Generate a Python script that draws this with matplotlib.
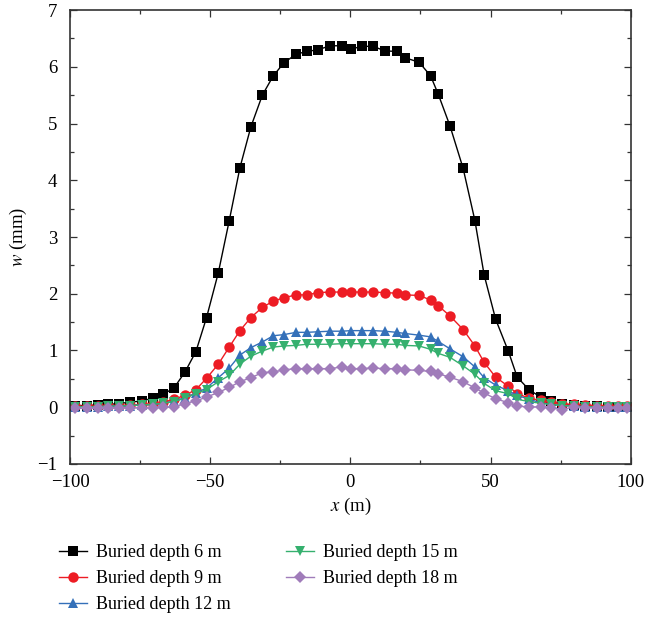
import matplotlib
matplotlib.use('Agg')
import matplotlib.pyplot as plt
from matplotlib.ticker import MultipleLocator

plt.rcParams['font.family'] = ['Liberation Serif', 'DejaVu Serif']
plt.rcParams['mathtext.fontset'] = 'stix'

# posicoes x (m) comuns a todas as series
x = [-98.2, -94.1, -90.1, -86.3, -82.4, -78.6, -74.4, -70.5, -66.7, -62.9,
     -59.0, -55.1, -51.3, -47.1, -43.2, -39.4, -35.5, -31.4, -27.5, -23.7,
     -19.4, -15.6, -11.5, -7.3, -3.1, 0.2,
     4.0, 8.1, 12.3, 16.5, 19.4, 24.5, 28.6, 31.3, 35.5, 40.2,
     44.4, 47.7, 51.8, 56.3, 59.5, 63.7, 67.8, 71.4, 75.6, 79.7,
     83.8, 87.8, 91.9, 95.5, 98.7]

w_6m = [0.03, 0.03, 0.04, 0.05, 0.065, 0.09, 0.11, 0.16, 0.23, 0.34,
        0.62, 0.98, 1.58, 2.37, 3.29, 4.22, 4.94, 5.50, 5.84, 6.07,
        6.22, 6.27, 6.30, 6.37, 6.37, 6.31,
        6.36, 6.36, 6.28, 6.27, 6.16, 6.08, 5.84, 5.52, 4.96, 4.21,
        3.29, 2.33, 1.55, 0.99, 0.53, 0.31, 0.18, 0.11, 0.05, 0.035,
        0.02, 0.02, 0.01, 0.0, 0.0]

w_9m = [0.02, 0.02, 0.02, 0.03, 0.03, 0.04, 0.05, 0.06, 0.09, 0.14,
        0.21, 0.31, 0.51, 0.76, 1.06, 1.35, 1.58, 1.76, 1.87, 1.93,
        1.98, 1.98, 2.02, 2.03, 2.03, 2.03,
        2.03, 2.03, 2.02, 2.01, 1.98, 1.97, 1.89, 1.79, 1.61, 1.37,
        1.08, 0.79, 0.53, 0.37, 0.24, 0.16, 0.12, 0.09, 0.06, 0.05,
        0.04, 0.03, 0.02, 0.02, 0.02]

w_12m = [0.01, 0.01, 0.01, 0.02, 0.02, 0.03, 0.04, 0.05, 0.07, 0.11,
         0.17, 0.25, 0.34, 0.52, 0.69, 0.92, 1.05, 1.15, 1.26, 1.28,
         1.32, 1.32, 1.33, 1.34, 1.34, 1.35,
         1.35, 1.35, 1.34, 1.32, 1.30, 1.27, 1.24, 1.16, 1.03, 0.89,
         0.71, 0.52, 0.39, 0.29, 0.21, 0.14, 0.08, 0.05, 0.03, 0.02,
         0.01, 0.0, 0.0, 0.0, 0.0]

w_15m = [0.01, 0.01, 0.01, 0.02, 0.02, 0.03, 0.04, 0.05, 0.07, 0.10,
         0.16, 0.24, 0.31, 0.45, 0.56, 0.76, 0.90, 0.99, 1.06, 1.08,
         1.09, 1.11, 1.11, 1.11, 1.12, 1.12,
         1.12, 1.12, 1.11, 1.11, 1.09, 1.08, 1.02, 0.95, 0.88, 0.73,
         0.58, 0.42, 0.29, 0.24, 0.14, 0.10, 0.07, 0.05, 0.03, 0.02,
         0.01, 0.01, 0.0, 0.0, 0.0]

w_18m = [-0.02, -0.02, -0.02, -0.02, -0.01, -0.01, -0.01, -0.01, 0.0, 0.005,
         0.065, 0.11, 0.18, 0.26, 0.35, 0.45, 0.52, 0.61, 0.62, 0.66,
         0.68, 0.68, 0.68, 0.68, 0.71, 0.68,
         0.68, 0.69, 0.68, 0.68, 0.66, 0.65, 0.63, 0.59, 0.53, 0.45,
         0.34, 0.25, 0.15, 0.08, 0.02, 0.005, 0.005, -0.005, -0.04, 0.005,
         -0.01, -0.01, -0.01, -0.01, -0.01]

labels = ['Buried depth 6 m', 'Buried depth 9 m', 'Buried depth 12 m',
          'Buried depth 15 m', 'Buried depth 18 m']

fig = plt.figure(figsize=(6.45, 6.26), dpi=100)
ax = fig.add_axes([0.1085, 0.2588, 0.8695, 0.7252])

series = [
    (w_6m, '#000000', 's', 7),
    (w_9m, '#ED1C24', 'o', 7.5),
    (w_12m, '#3470B9', '^', 7.5),
    (w_15m, '#35B06E', 'v', 7.5),
    (w_18m, '#A07CBA', 'D', 6.5),
]
for (w, cor, mk, ms), lab in zip(series, labels):
    ax.plot(x, w, color=cor, marker=mk, markersize=ms, linewidth=1.0,
            markeredgewidth=0, label=lab)

ax.set_xlim(-100, 100)
ax.set_ylim(-1, 7)
ax.xaxis.set_major_locator(MultipleLocator(50))
ax.xaxis.set_minor_locator(MultipleLocator(25))
ax.yaxis.set_major_locator(MultipleLocator(1))
ax.yaxis.set_minor_locator(MultipleLocator(0.5))
ax.tick_params(which='both', direction='in', top=True, right=True,
               labelsize=13.5, colors='#333333', labelcolor='black')
ax.tick_params(axis='x', which='major', pad=7)
ax.tick_params(axis='y', which='major', pad=9)
ax.tick_params(which='major', length=5, width=0.9)
ax.tick_params(which='minor', length=3, width=0.9)
for s in ax.spines.values():
    s.set_color('#333333')
    s.set_linewidth(1.2)

ax.set_xlabel(r'$x$ (m)', fontsize=13.5, labelpad=4)
ax.set_ylabel(r'$w$ (mm)', fontsize=13.5, labelpad=6)

fig.legend(loc='upper left', bbox_to_anchor=(0.066, 0.157), ncol=2,
           frameon=False, fontsize=13, handlelength=1.55, labelspacing=0.5,
           columnspacing=3.05, handletextpad=0.5)

plt.savefig('out.png', dpi=100)
plt.close()
